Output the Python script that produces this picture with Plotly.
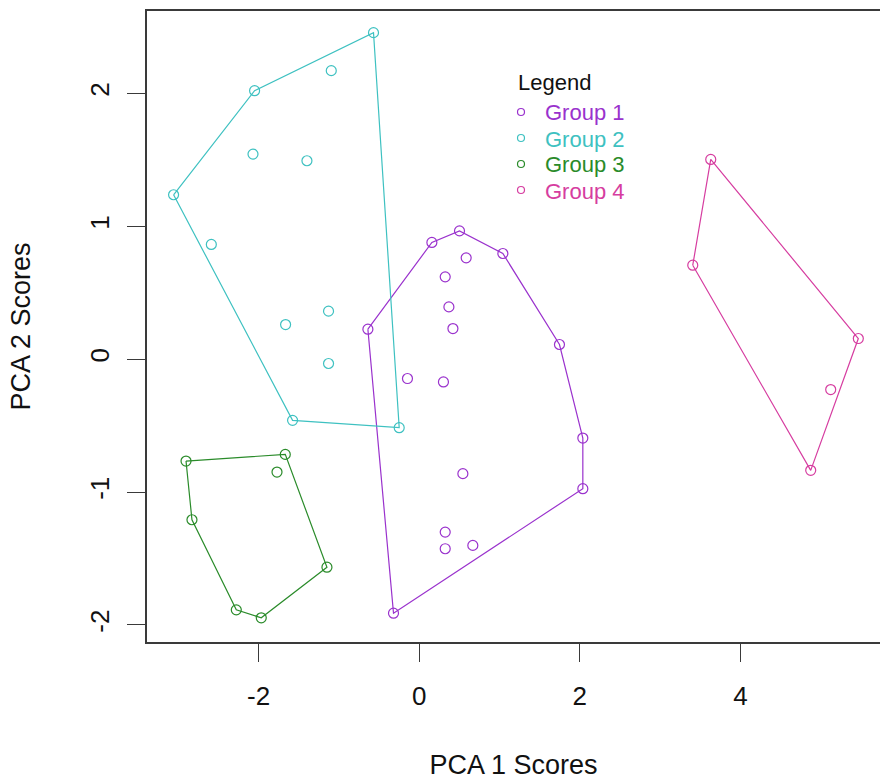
import plotly.graph_objects as go

# ---- data ----
groups = ["Group 1", "Group 2", "Group 3", "Group 4"]
colors = ["#9A32CD", "#3EC1C1", "#2A8B2A", "#D63DA0"]

g1_x = [-0.639, 0.158, 0.502, 1.042, 0.585, 0.324, 0.370, 0.420, -0.146, 0.302,
        1.747, 2.038, 2.038, 0.544, 0.324, 0.324, 0.668, -0.320]
g1_y = [0.226, 0.879, 0.966, 0.796, 0.763, 0.620, 0.394, 0.231, -0.145, -0.171,
        0.111, -0.593, -0.974, -0.861, -1.301, -1.426, -1.401, -1.911]

g2_x = [-0.569, -1.095, -2.050, -2.070, -1.398, -3.059, -2.589, -1.129, -1.664,
        -1.129, -1.577, -0.249]
g2_y = [2.458, 2.172, 2.021, 1.544, 1.494, 1.238, 0.864, 0.362, 0.261,
        -0.032, -0.460, -0.515]

g3_x = [-2.904, -1.668, -1.771, -2.830, -1.149, -2.278, -1.967]
g3_y = [-0.766, -0.716, -0.849, -1.208, -1.565, -1.886, -1.946]

g4_x = [3.631, 3.407, 5.469, 5.125, 4.876]
g4_y = [1.504, 0.708, 0.156, -0.228, -0.836]

xs = [g1_x, g2_x, g3_x, g4_x]
ys = [g1_y, g2_y, g3_y, g4_y]

x_ticks = [-2, 0, 2, 4]
x_tick_labels = ["-2", "0", "2", "4"]
y_ticks = [-2, -1, 0, 1, 2]
y_tick_labels = ["-2", "-1", "0", "1", "2"]


def convex_hull(px, py):
    pts = sorted(set(zip(px, py)))
    if len(pts) <= 2:
        return pts

    def cross(o, a, b):
        return (a[0] - o[0]) * (b[1] - o[1]) - (a[1] - o[1]) * (b[0] - o[0])

    lower = []
    for p in pts:
        while len(lower) >= 2 and cross(lower[-2], lower[-1], p) <= 0:
            lower.pop()
        lower.append(p)
    upper = []
    for p in reversed(pts):
        while len(upper) >= 2 and cross(upper[-2], upper[-1], p) <= 0:
            upper.pop()
        upper.append(p)
    return lower[:-1] + upper[:-1]


FONT = "Liberation Sans, Arial, sans-serif"
W, H = 880, 780
M_L, M_R, M_T, M_B = 147, 0, 11, 138
PW, PH = W - M_L - M_R, H - M_T - M_B


def px_to_paper(px, py):
    return (px - M_L) / PW, (H - M_B - py) / PH


fig = go.Figure()

for name, col, gx, gy in zip(groups, colors, xs, ys):
    hull = convex_hull(gx, gy)
    hull.append(hull[0])
    fig.add_trace(go.Scatter(
        x=[p[0] for p in hull], y=[p[1] for p in hull], mode="lines",
        line=dict(color=col, width=1.2), showlegend=False, hoverinfo="skip"))
    fig.add_trace(go.Scatter(
        x=gx, y=gy, mode="markers", showlegend=False, name=name,
        marker=dict(symbol="circle-open", size=10, color=col, line=dict(width=1.2))))

# ---- manual legend (R-style, text coloured per group) ----
annotations = []
shapes = []
lx_title, ly_title = px_to_paper(516, 82)
annotations.append(dict(text="Legend", x=lx_title, y=ly_title, xref="paper", yref="paper",
                        xanchor="left", yanchor="middle", showarrow=False,
                        font=dict(family=FONT, size=22, color="#111")))
for i, (name, col) in enumerate(zip(groups, colors)):
    row_y = 113 + 26 * i
    tx, ty = px_to_paper(543, row_y)
    annotations.append(dict(text=name, x=tx, y=ty, xref="paper", yref="paper",
                            xanchor="left", yanchor="middle", showarrow=False,
                            font=dict(family=FONT, size=22, color=col)))
    mx, my = px_to_paper(521, row_y - 1)
    shapes.append(dict(type="circle", xref="paper", yref="paper",
                       xsizemode="pixel", ysizemode="pixel",
                       xanchor=mx, yanchor=my, x0=-3.5, x1=3.5, y0=-3.5, y1=3.5,
                       line=dict(color=col, width=1.2)))

axis_common = dict(
    showgrid=False, zeroline=False, showline=True, linecolor="#3a3a3a", linewidth=2,
    ticks="outside", ticklen=18, tickwidth=1.2, tickcolor="#3a3a3a",
    tickfont=dict(family=FONT, size=26, color="#111"),
)

fig.update_layout(
    width=W, height=H,
    margin=dict(l=M_L, r=M_R, t=M_T, b=M_B),
    plot_bgcolor="white", paper_bgcolor="white",
    font=dict(family=FONT, color="#111"),
    showlegend=False,
    xaxis=dict(range=[-3.39, 5.739], tickvals=x_ticks, ticktext=x_tick_labels, mirror=True,
               ticklabelstandoff=12,
               title=dict(text="PCA 1 Scores", font=dict(family=FONT, size=27), standoff=47),
               **axis_common),
    yaxis=dict(range=[-2.128, 2.621], tickvals=y_ticks, ticktext=y_tick_labels,
               tickangle=-90, mirror=False, ticklabelstandoff=8,
               title=dict(text="PCA 2 Scores", font=dict(family=FONT, size=27), standoff=46),
               **axis_common),
    annotations=annotations,
    shapes=shapes,
)

fig.write_html("out.html")
